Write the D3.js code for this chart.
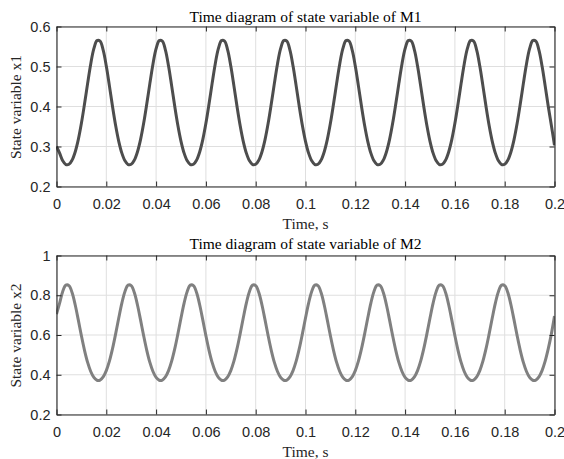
<!DOCTYPE html>
<html><head><meta charset="utf-8">
<script src="https://cdn.jsdelivr.net/npm/d3@7"></script>
<style>body{margin:0;background:#fff}svg{display:block}</style>
</head><body>
<svg id="c" width="564" height="459"></svg>
<script>
// sample spacing of the series (s)
const timeStep = 0.00125;

// state variable x1 of M1
const x1Values = [
0.300,0.2834,0.2642,0.2549,0.2555,0.2659,0.2864,0.3172,0.3579,0.4061,0.4578,0.5065,0.5445,0.5648,0.5635,0.5408,0.5011,0.4516,0.400,0.3525,
0.313,0.2834,0.2642,0.2549,0.2555,0.2659,0.2864,0.3172,0.3579,0.4061,0.4578,0.5065,0.5445,0.5648,0.5635,0.5408,0.5011,0.4516,0.400,0.3525,
0.313,0.2834,0.2642,0.2549,0.2555,0.2659,0.2864,0.3172,0.3579,0.4061,0.4578,0.5065,0.5445,0.5648,0.5635,0.5408,0.5011,0.4516,0.400,0.3525,
0.313,0.2834,0.2642,0.2549,0.2555,0.2659,0.2864,0.3172,0.3579,0.4061,0.4578,0.5065,0.5445,0.5648,0.5635,0.5408,0.5011,0.4516,0.400,0.3525,
0.313,0.2834,0.2642,0.2549,0.2555,0.2659,0.2864,0.3172,0.3579,0.4061,0.4578,0.5065,0.5445,0.5648,0.5635,0.5408,0.5011,0.4516,0.400,0.3525,
0.313,0.2834,0.2642,0.2549,0.2555,0.2659,0.2864,0.3172,0.3579,0.4061,0.4578,0.5065,0.5445,0.5648,0.5635,0.5408,0.5011,0.4516,0.400,0.3525,
0.313,0.2834,0.2642,0.2549,0.2555,0.2659,0.2864,0.3172,0.3579,0.4061,0.4578,0.5065,0.5445,0.5648,0.5635,0.5408,0.5011,0.4516,0.400,0.3525,
0.313,0.2834,0.2642,0.2549,0.2555,0.2659,0.2864,0.3172,0.3579,0.4061,0.4578,0.5065,0.5445,0.5648,0.5635,0.5408,0.5011,0.4516,0.400,0.3525,
0.303
];

// state variable x2 of M2
const x2Values = [
0.705,0.7606,0.8193,0.8506,0.8486,0.8136,0.7523,0.6759,0.5963,0.5230,0.4620,0.4164,0.3867,0.3724,0.3733,0.3894,0.4210,0.4685,0.5313,0.6057,
0.6855,0.7606,0.8193,0.8506,0.8486,0.8136,0.7523,0.6759,0.5963,0.5230,0.4620,0.4164,0.3867,0.3724,0.3733,0.3894,0.4210,0.4685,0.5313,0.6057,
0.6855,0.7606,0.8193,0.8506,0.8486,0.8136,0.7523,0.6759,0.5963,0.5230,0.4620,0.4164,0.3867,0.3724,0.3733,0.3894,0.4210,0.4685,0.5313,0.6057,
0.6855,0.7606,0.8193,0.8506,0.8486,0.8136,0.7523,0.6759,0.5963,0.5230,0.4620,0.4164,0.3867,0.3724,0.3733,0.3894,0.4210,0.4685,0.5313,0.6057,
0.6855,0.7606,0.8193,0.8506,0.8486,0.8136,0.7523,0.6759,0.5963,0.5230,0.4620,0.4164,0.3867,0.3724,0.3733,0.3894,0.4210,0.4685,0.5313,0.6057,
0.6855,0.7606,0.8193,0.8506,0.8486,0.8136,0.7523,0.6759,0.5963,0.5230,0.4620,0.4164,0.3867,0.3724,0.3733,0.3894,0.4210,0.4685,0.5313,0.6057,
0.6855,0.7606,0.8193,0.8506,0.8486,0.8136,0.7523,0.6759,0.5963,0.5230,0.4620,0.4164,0.3867,0.3724,0.3733,0.3894,0.4210,0.4685,0.5313,0.6057,
0.6855,0.7606,0.8193,0.8506,0.8486,0.8136,0.7523,0.6759,0.5963,0.5230,0.4620,0.4164,0.3867,0.3724,0.3733,0.3894,0.4210,0.4685,0.5313,0.6057,
0.695
];

const xTicks = [0,0.02,0.04,0.06,0.08,0.1,0.12,0.14,0.16,0.18,0.2];
const xTickLabels = ["0","0.02","0.04","0.06","0.08","0.1","0.12","0.14","0.16","0.18","0.2"];
const y1Ticks = [0.2,0.3,0.4,0.5,0.6];
const y1TickLabels = ["0.2","0.3","0.4","0.5","0.6"];
const y2Ticks = [0.2,0.4,0.6,0.8,1];
const y2TickLabels = ["0.2","0.4","0.6","0.8","1"];
const titles = ["Time diagram of state variable of M1","Time diagram of state variable of M2"];
const yLabels = ["State variable x1","State variable x2"];
const xLabel = "Time, s";

const svg = d3.select("#c");
svg.append("rect").attr("width",564).attr("height",459).attr("fill","#fff");

const AX = "#262626";
const SERIF = "'Liberation Serif','Times New Roman',serif";
const panels = [
  {values:x1Values, yDomain:[0.2,0.6], yTicks:y1Ticks, yTickLabels:y1TickLabels, title:titles[0], yLabel:yLabels[0], color:"#4d4d4d", top:26, bottom:186, titleY:21.5},
  {values:x2Values, yDomain:[0.2,1], yTicks:y2Ticks, yTickLabels:y2TickLabels, title:titles[1], yLabel:yLabels[1], color:"#808080", top:255, bottom:414, titleY:249}
];
const left = 56, right = 554;

panels.forEach((p, pi) => {
  const x = d3.scaleLinear().domain([0,0.2]).range([left+0.5, right+0.5]);
  const y = d3.scaleLinear().domain(p.yDomain).range([p.bottom+0.5, p.top+0.5]);
  const g = svg.append("g");

  // grid
  g.append("g").selectAll("line").data(xTicks).join("line")
    .attr("x1", d=>x(d)).attr("x2", d=>x(d)).attr("y1", p.top).attr("y2", p.bottom)
    .attr("stroke","#dfdfdf").attr("stroke-width",1);
  g.append("g").selectAll("line").data(p.yTicks).join("line")
    .attr("y1", d=>y(d)).attr("y2", d=>y(d)).attr("x1", left).attr("x2", right)
    .attr("stroke","#dfdfdf").attr("stroke-width",1);

  // clip
  const cid = "clip"+pi;
  svg.append("clipPath").attr("id",cid).append("rect")
    .attr("x",left).attr("y",p.top).attr("width",right-left+1).attr("height",p.bottom-p.top+1);

  const line = d3.line()
    .x((d,i)=>x(i*timeStep))
    .y(d=>y(d))
    .curve(d3.curveCatmullRom.alpha(0.5));
  g.append("path").datum(p.values)
    .attr("clip-path",`url(#${cid})`)
    .attr("d", line).attr("fill","none")
    .attr("stroke", p.color).attr("stroke-width",3).attr("stroke-linejoin","round");

  // axes
  const fmtX = (d,i)=>xTickLabels[i];
  const fmtY = (d,i)=>p.yTickLabels[i];
  const bottomAxis = g.append("g").attr("transform",`translate(0,${p.bottom+0.5})`)
    .call(d3.axisBottom(x).tickValues(xTicks).tickFormat(fmtX).tickSizeInner(-5).tickSizeOuter(0).tickPadding(12.5));
  const topAxis = g.append("g").attr("transform",`translate(0,${p.top+0.5})`)
    .call(d3.axisTop(x).tickValues(xTicks).tickFormat("").tickSizeInner(-5).tickSizeOuter(0));
  const leftAxis = g.append("g").attr("transform",`translate(${left+0.5},0)`)
    .call(d3.axisLeft(y).tickValues(p.yTicks).tickFormat(fmtY).tickSizeInner(-5).tickSizeOuter(0).tickPadding(6));
  const rightAxis = g.append("g").attr("transform",`translate(${right+0.5},0)`)
    .call(d3.axisRight(y).tickValues(p.yTicks).tickFormat("").tickSizeInner(-5).tickSizeOuter(0));
  [bottomAxis, topAxis, leftAxis, rightAxis].forEach(a=>{
    a.select(".domain").attr("stroke",AX).attr("stroke-width",1.1);
    a.selectAll(".tick line").attr("stroke",AX).attr("stroke-width",1);
    a.selectAll("text").attr("fill",AX).style("font-family","'Liberation Sans', Arial, sans-serif").style("font-size","14.5px");
  });

  // title
  g.append("text").attr("x",(left+right)/2+0.5).attr("y",p.titleY)
    .attr("text-anchor","middle").attr("fill","#000")
    .style("font-family",SERIF).style("font-size","15.5px")
    .text(p.title);
  // x label
  g.append("text").attr("x",(left+right)/2+0.5).attr("y",p.bottom+42.5)
    .attr("text-anchor","middle").attr("fill",AX)
    .style("font-family",SERIF).style("font-size","15.5px")
    .text(xLabel);
  // y label
  g.append("text").attr("transform",`translate(21,${(p.top+p.bottom)/2+1}) rotate(-90)`)
    .attr("text-anchor","middle").attr("fill",AX)
    .style("font-family",SERIF).style("font-size","15.5px")
    .text(p.yLabel);
});
</script>
</body></html>
